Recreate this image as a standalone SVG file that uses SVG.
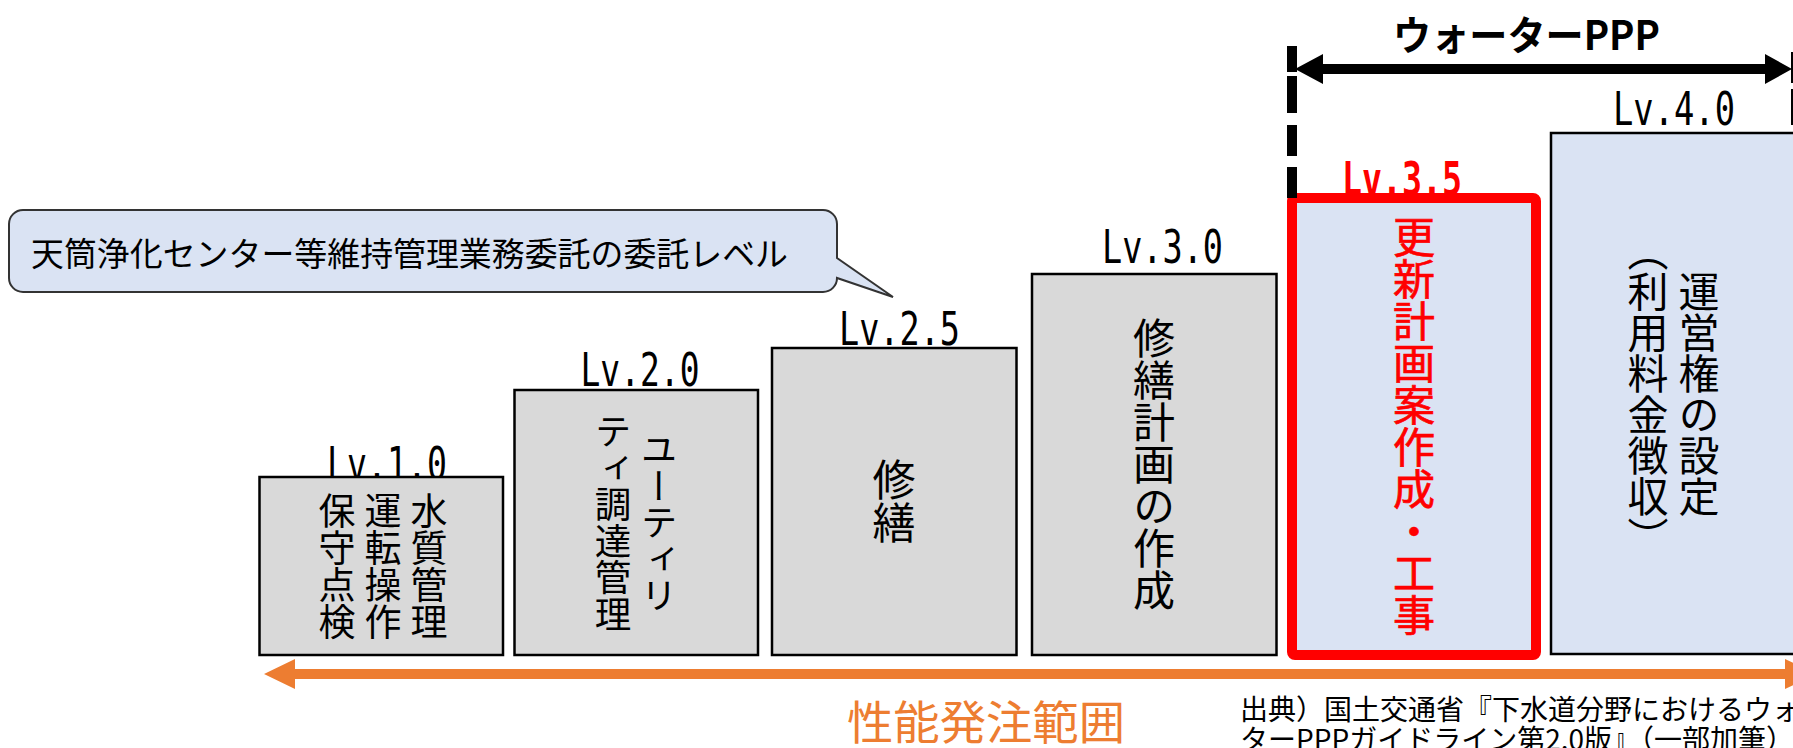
<svg xmlns="http://www.w3.org/2000/svg" width="1793" height="748" viewBox="0 0 1793 748">
<defs>
<style>
.box{stroke:#000;stroke-width:2.5}
.grey{fill:#D9D9D9}
.blue{fill:#DAE3F3}
.lv{font-family:"DejaVu Sans Mono","Liberation Mono",monospace;font-size:46px;fill:#000;text-anchor:middle}
.vt{font-family:"Noto Sans CJK JP",sans-serif;writing-mode:vertical-rl;text-anchor:middle;fill:#000}
.jp{font-family:"Noto Sans CJK JP",sans-serif}
</style>
</defs>
<rect width="1793" height="748" fill="#fff"/>

<g id="callout">
<path d="M23,210 H823 A14,14 0 0 1 837,224 V258 L893,297 L837,278 A14,14 0 0 1 823,292 H23 A14,14 0 0 1 9,278 V224 A14,14 0 0 1 23,210 Z" fill="#DAE3F3" stroke="#333" stroke-width="2"/>
<text class="jp" x="31" y="266" font-size="33" textLength="757" lengthAdjust="spacingAndGlyphs" fill="#000">天筒浄化センター等維持管理業務委託の委託レベル</text>
</g>

<g id="lv10">
<text class="lv" x="387" y="480" textLength="120" lengthAdjust="spacingAndGlyphs">Lv.1.0</text>
<rect class="box grey" x="259.5" y="477" width="243.5" height="178"/>
<text class="vt" x="429" y="566" font-size="37">水質管理</text>
<text class="vt" x="383" y="566" font-size="37">運転操作</text>
<text class="vt" x="337" y="566" font-size="37">保守点検</text>
</g>

<g id="lv20">
<text class="lv" x="640" y="386" textLength="119" lengthAdjust="spacingAndGlyphs">Lv.2.0</text>
<rect class="box grey" x="514.5" y="390" width="243.5" height="265"/>
<text class="vt" x="659" y="522.5" font-size="36.5">ユーティリ</text>
<text class="vt" x="613" y="522.5" font-size="36.5">ティ調達管理</text>
</g>

<g id="lv25">
<text class="lv" x="899.5" y="345" textLength="121" lengthAdjust="spacingAndGlyphs">Lv.2.5</text>
<rect class="box grey" x="772" y="348" width="244.5" height="307"/>
<text class="vt" x="894" y="501.5" font-size="43">修繕</text>
</g>

<g id="lv30">
<text class="lv" x="1162.5" y="263" textLength="121" lengthAdjust="spacingAndGlyphs">Lv.3.0</text>
<rect class="box grey" x="1032" y="274" width="244.5" height="381"/>
<text class="vt" x="1154" y="464.5" font-size="42">修繕計画の作成</text>
</g>

<g id="lv35">
<text class="lv" x="1402" y="195" textLength="120" lengthAdjust="spacingAndGlyphs" font-weight="bold" style="fill:#FF0000">Lv.3.5</text>
<rect x="1292" y="198" width="244" height="457" rx="3" fill="#DAE3F3" stroke="#FF0000" stroke-width="10"/>
<text class="vt" x="1414" y="426.5" font-size="42" stroke="#FF0000" stroke-width="0.7" style="fill:#FF0000">更新計画案作成・工事</text>
</g>

<g id="lv40">
<text class="lv" x="1674" y="125" textLength="122" lengthAdjust="spacingAndGlyphs">Lv.4.0</text>
<rect class="box blue" x="1551" y="133" width="245" height="521"/>
<text class="vt" x="1699" y="393.5" font-size="41">運営権の設定</text>
<text class="vt" x="1648" y="393.5" font-size="41">（利用料金徴収）</text>
</g>

<g id="connectors">
<path d="M264,674 L295,659 L295,669 L1785,669 L1785,659 L1816,674 L1785,689 L1785,679 L295,679 L295,689 Z" fill="#ED7D31"/>
<path d="M1292,46 V72 M1292,76 V113 M1292,125 V156 M1292,167 V198" stroke="#000" stroke-width="10" fill="none"/>
<path d="M1796,52 V83 M1796,89 V125" stroke="#000" stroke-width="10" fill="none"/>
<path d="M1295,69 L1323,54 L1323,64 L1765,64 L1765,54 L1792,69 L1765,84 L1765,74 L1323,74 L1323,84 Z" fill="#000"/>
</g>

<g id="labels">
<text class="jp" x="1393" y="50" font-size="40" font-weight="bold" textLength="267" lengthAdjust="spacingAndGlyphs" fill="#000">ウォーターPPP</text>
<text class="jp" x="847" y="739" font-size="46" textLength="278" lengthAdjust="spacingAndGlyphs" fill="#ED7D31">性能発注範囲</text>
<text class="jp" x="1240" y="720" font-size="28" fill="#000">出典）国土交通省『下水道分野におけるウォ</text>
<text class="jp" x="1240" y="750" font-size="28" fill="#000">ターPPPガイドライン第2.0版』（一部加筆）</text>
</g>
</svg>
